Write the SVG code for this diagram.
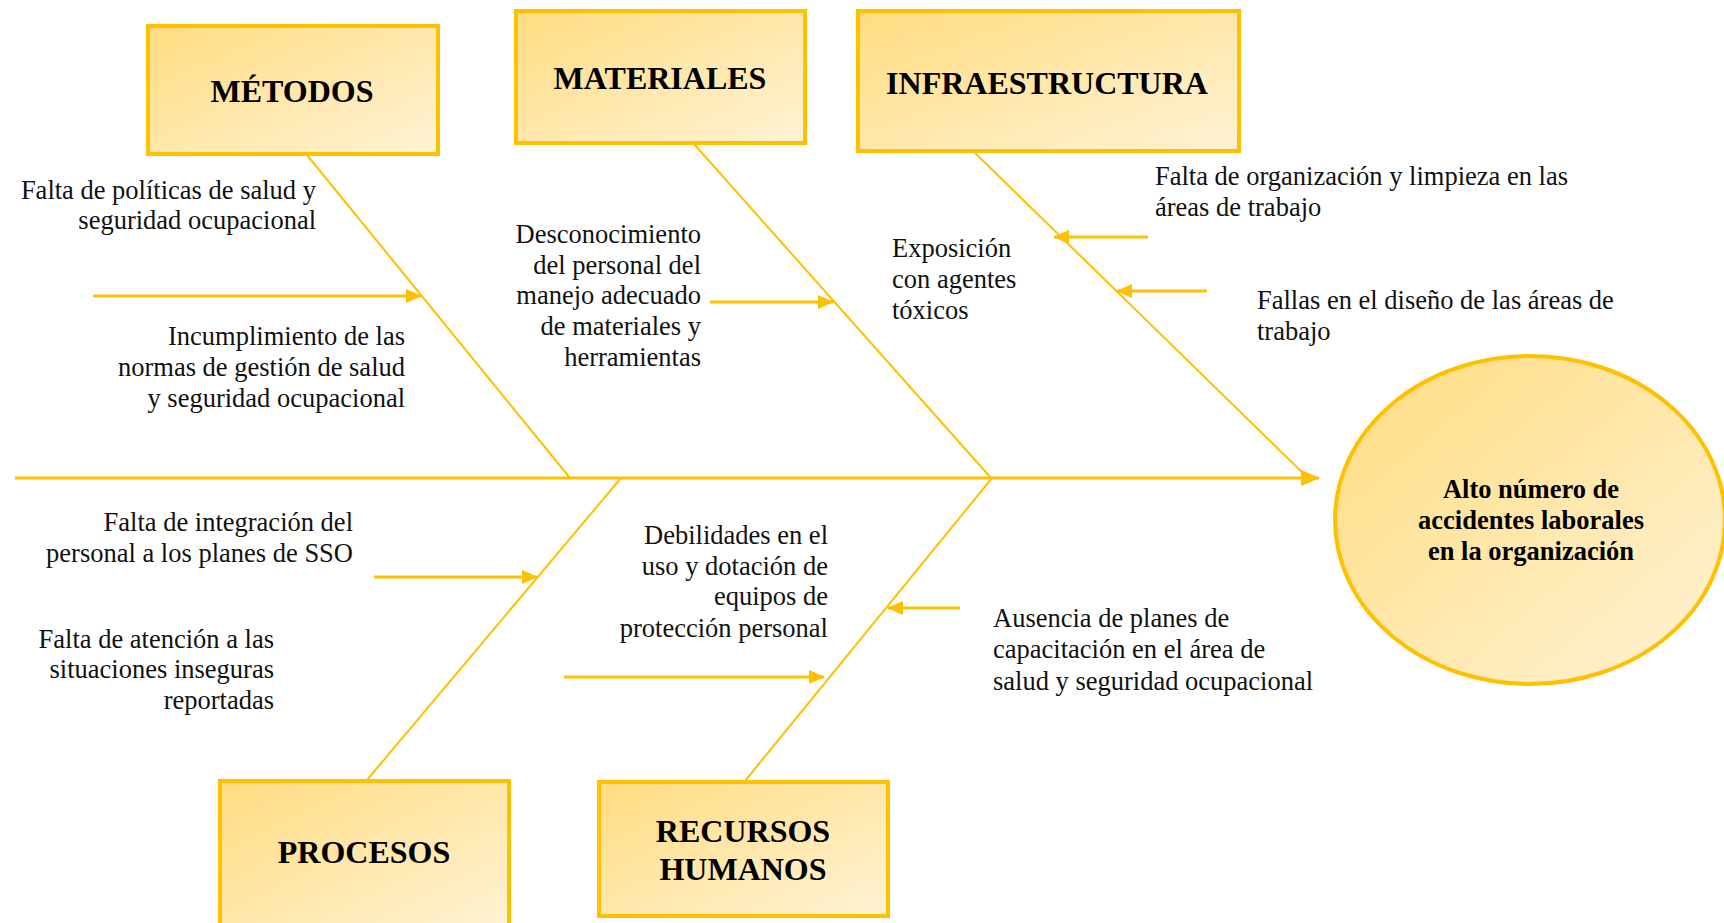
<svg xmlns="http://www.w3.org/2000/svg" width="1724" height="923" viewBox="0 0 1724 923">
  <style>
    .box { stroke: #FFC000; stroke-width: 4; fill: url(#gold); }
    .title { font-family: "Liberation Serif", "Times New Roman", serif; font-weight: bold; font-size: 32px; fill: #000; text-anchor: middle; }
    .lbl { font-family: "Liberation Serif", "Times New Roman", serif; font-size: 26.5px; fill: #111; }
    .end { text-anchor: end; }
    .eff { font-family: "Liberation Serif", "Times New Roman", serif; font-weight: bold; font-size: 26.5px; fill: #000; text-anchor: middle; }
    .spine { stroke: #FFC000; stroke-width: 3; fill: none; }
    .bone { stroke: #FFC000; stroke-width: 2; fill: none; }
    .sub { stroke: #FFC000; stroke-width: 3; fill: none; }
  </style>
  <defs>
    <linearGradient id="gold" x1="0" y1="0" x2="1" y2="1">
      <stop offset="0" stop-color="#FFDC80"/>
      <stop offset="1" stop-color="#FFF3D6"/>
    </linearGradient>
    <marker id="ah" markerWidth="16" markerHeight="14" refX="15" refY="7" orient="auto" markerUnits="userSpaceOnUse">
      <path d="M0,0 L16,7 L0,14 z" fill="#FFC000"/>
    </marker>
    <marker id="ahBig" markerWidth="19" markerHeight="16" refX="18" refY="8" orient="auto" markerUnits="userSpaceOnUse">
      <path d="M0,0 L19,8 L0,16 z" fill="#FFC000"/>
    </marker>
  </defs>
  <rect width="1724" height="923" fill="#fff"/>

  <g id="connectors">
    <line class="spine" x1="15" y1="478" x2="1319" y2="478" marker-end="url(#ahBig)"/>
    <line class="bone" x1="307" y1="155" x2="570" y2="478"/>
    <line class="bone" x1="694" y1="144" x2="991" y2="478"/>
    <line class="bone" x1="975" y1="153" x2="1307" y2="477"/>
    <line class="bone" x1="621" y1="478" x2="367" y2="780"/>
    <line class="bone" x1="992" y1="478" x2="745" y2="781"/>
    <line class="sub" x1="93" y1="296" x2="421" y2="296" marker-end="url(#ah)"/>
    <line class="sub" x1="710" y1="302" x2="833" y2="302" marker-end="url(#ah)"/>
    <line class="sub" x1="1148" y1="237" x2="1054" y2="237" marker-end="url(#ah)"/>
    <line class="sub" x1="1207" y1="291" x2="1117" y2="291" marker-end="url(#ah)"/>
    <line class="sub" x1="374" y1="577" x2="537" y2="577" marker-end="url(#ah)"/>
    <line class="sub" x1="564" y1="677" x2="824" y2="677" marker-end="url(#ah)"/>
    <line class="sub" x1="960" y1="608" x2="888" y2="608" marker-end="url(#ah)"/>
  </g>

  <g id="metodos">
    <rect class="box" x="148" y="26" width="290" height="128"/>
    <text class="title" x="292" y="102">MÉTODOS</text>
  </g>
  <g id="materiales">
    <rect class="box" x="516" y="11" width="289" height="132"/>
    <text class="title" x="660" y="89">MATERIALES</text>
  </g>
  <g id="infraestructura">
    <rect class="box" x="858" y="11" width="381" height="140"/>
    <text class="title" x="1047" y="94">INFRAESTRUCTURA</text>
  </g>
  <g id="procesos">
    <rect class="box" x="220" y="781" width="289" height="150"/>
    <text class="title" x="364" y="863">PROCESOS</text>
  </g>
  <g id="recursos-humanos">
    <rect class="box" x="599" y="782" width="289" height="134"/>
    <text class="title" x="743" y="842">RECURSOS</text>
    <text class="title" x="743" y="880">HUMANOS</text>
  </g>
  <g id="efecto">
    <ellipse cx="1530" cy="520" rx="195" ry="164" fill="url(#gold)" stroke="#FFC000" stroke-width="4"/>
    <text class="eff" x="1531" y="498">Alto número de</text>
    <text class="eff" x="1531" y="529">accidentes laborales</text>
    <text class="eff" x="1531" y="560">en la organización</text>
  </g>

  <g id="causa-politicas">
    <text class="lbl end" x="316" y="199">Falta de políticas de salud y</text>
    <text class="lbl end" x="316" y="229">seguridad ocupacional</text>
  </g>
  <g id="causa-incumplimiento">
    <text class="lbl end" x="405" y="345">Incumplimiento de las</text>
    <text class="lbl end" x="405" y="376">normas de gestión de salud</text>
    <text class="lbl end" x="405" y="407">y seguridad ocupacional</text>
  </g>
  <g id="causa-desconocimiento">
    <text class="lbl end" x="701" y="243">Desconocimiento</text>
    <text class="lbl end" x="701" y="274">del personal del</text>
    <text class="lbl end" x="701" y="304">manejo adecuado</text>
    <text class="lbl end" x="701" y="335">de materiales y</text>
    <text class="lbl end" x="701" y="366">herramientas</text>
  </g>
  <g id="causa-exposicion">
    <text class="lbl" x="892" y="257">Exposición</text>
    <text class="lbl" x="892" y="288">con agentes</text>
    <text class="lbl" x="892" y="319">tóxicos</text>
  </g>
  <g id="causa-organizacion">
    <text class="lbl" x="1155" y="185">Falta de organización y limpieza en las</text>
    <text class="lbl" x="1155" y="216">áreas de trabajo</text>
  </g>
  <g id="causa-diseno">
    <text class="lbl" x="1257" y="309">Fallas en el diseño de las áreas de</text>
    <text class="lbl" x="1257" y="340">trabajo</text>
  </g>
  <g id="causa-integracion">
    <text class="lbl end" x="353" y="531">Falta de integración del</text>
    <text class="lbl end" x="353" y="562">personal a los planes de SSO</text>
  </g>
  <g id="causa-atencion">
    <text class="lbl end" x="274" y="648">Falta de atención a las</text>
    <text class="lbl end" x="274" y="678">situaciones inseguras</text>
    <text class="lbl end" x="274" y="709">reportadas</text>
  </g>
  <g id="causa-epp">
    <text class="lbl end" x="828" y="544">Debilidades en el</text>
    <text class="lbl end" x="828" y="575">uso y dotación de</text>
    <text class="lbl end" x="828" y="605">equipos de</text>
    <text class="lbl end" x="828" y="637">protección personal</text>
  </g>
  <g id="causa-capacitacion">
    <text class="lbl" x="993" y="627">Ausencia de planes de</text>
    <text class="lbl" x="993" y="658">capacitación en el área de</text>
    <text class="lbl" x="993" y="690">salud y seguridad ocupacional</text>
  </g>
</svg>
